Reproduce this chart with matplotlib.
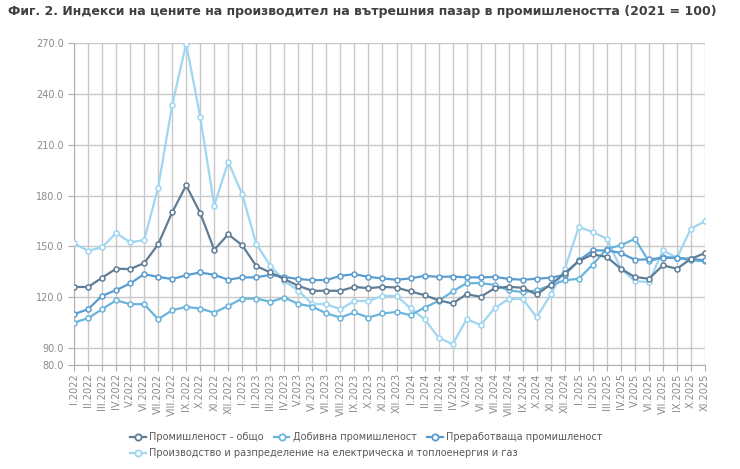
import matplotlib
matplotlib.use("Agg")
import matplotlib.pyplot as plt
from matplotlib.lines import Line2D

months = ["I.2022", "II.2022", "III.2022", "IV.2022", "V.2022", "VI.2022", "VII.2022", "VIII.2022",
          "IX.2022", "X.2022", "XI.2022", "XII.2022",
          "I.2023", "II.2023", "III.2023", "IV.2023", "V.2023", "VI.2023", "VII.2023", "VIII.2023",
          "IX.2023", "X.2023", "XI.2023", "XII.2023",
          "I.2024", "II.2024", "III.2024", "IV.2024", "V.2024", "VI.2024", "VII.2024", "VIII.2024",
          "IX.2024", "X.2024", "XI.2024", "XII.2024",
          "I.2025", "II.2025", "III.2025", "IV.2025", "V.2025", "VI.2025", "VII.2025",
          "IX.2025", "X.2025", "XI.2025"]

total = [126.1, 126.0, 131.5, 136.8, 136.6, 140.1, 151.2, 170.1, 186.0, 169.7, 148.0, 157.1,
         150.6, 138.4, 134.6, 130.7, 126.7, 123.8, 123.8, 123.8, 126.1, 125.3, 126.1, 125.7,
         123.4, 121.2, 118.2, 116.3, 121.8, 120.2, 125.3, 126.2, 125.5, 121.6, 127.5, 134.2,
         141.3, 145.3, 143.7, 136.8, 131.9, 130.9, 138.8, 136.8, 142.7, 146.0]

mining = [105.0, 107.6, 112.9, 118.2, 115.9, 115.9, 107.0, 112.3, 114.3, 113.3, 110.9, 114.9,
          119.2, 119.2, 117.3, 119.8, 116.0, 114.5, 110.4, 108.0, 111.0, 108.0, 110.4, 111.3,
          109.4, 113.9, 117.8, 123.4, 128.3, 128.3, 127.3, 124.0, 123.0, 124.0, 127.0, 130.0,
          130.9, 139.3, 148.6, 150.6, 154.5, 141.1, 143.7, 143.3, 141.7, 141.3]

manuf = [110.0, 112.9, 120.8, 124.2, 128.1, 133.6, 132.0, 130.7, 133.0, 134.6, 133.2, 130.3,
         131.7, 131.7, 133.2, 132.0, 130.7, 130.1, 130.1, 132.6, 133.6, 132.0, 131.1, 130.3,
         131.1, 132.6, 132.0, 132.2, 131.7, 131.7, 132.0, 130.8, 130.3, 130.9, 131.5, 133.2,
         141.7, 147.6, 147.6, 146.1, 142.1, 142.3, 143.3, 143.1, 142.7, 141.7]

energy = [151.8, 147.4, 149.4, 157.9, 152.4, 153.7, 184.6, 233.4, 269.6, 226.5, 174.1, 199.8,
          180.7, 151.4, 138.6, 129.7, 123.8, 116.0, 115.9, 112.9, 117.8, 117.8, 120.8, 120.8,
          113.5, 107.0, 96.2, 92.2, 107.0, 103.6, 113.5, 119.0, 119.0, 108.2, 121.6, 136.8,
          161.4, 158.5, 154.5, 136.8, 129.5, 128.9, 147.6, 143.3, 160.5, 164.8]

names = ["Промишленост - общо", "Добивна промишленост", "Преработваща промишленост",
         "Производство и разпределение на електрическа и топлоенергия и газ"]
colors = ["#5f7d96", "#6ab4dc", "#5b9ccf", "#9fd6f1"]

fig = plt.figure(figsize=(7.4, 4.69), dpi=100)
ax = fig.add_axes([74/740, 1 - 365/469, (705 - 74)/740, (365 - 43)/469])

x = list(range(len(months)))
# draw the light series first so the darker ones sit on top
for s, c in zip([energy, mining, manuf, total], [colors[3], colors[1], colors[2], colors[0]]):
    ax.plot(x, s, color=c, linewidth=1.6, marker="o", markersize=3.6,
            markerfacecolor="white", markeredgewidth=1.1, zorder=3)

ax.set_xlim(0, len(months) - 1)
ax.set_ylim(80, 270)
yt = [80, 90, 120, 150, 180, 210, 240, 270]
ax.set_yticks(yt)
ax.set_yticklabels(["%.1f" % v for v in yt])
ax.set_xticks(x)
ax.set_xticklabels(months, rotation=90)

ax.grid(True, color="#c8c8c8", linewidth=1.0, zorder=0)
for sp in ["top", "right"]:
    ax.spines[sp].set_visible(False)
for sp in ["left", "bottom"]:
    ax.spines[sp].set_color("#b0b0b0")
ax.tick_params(axis="both", colors="#b0b0b0", labelcolor="#8a8a8a", labelsize=7, length=4)
ax.tick_params(axis="x", pad=2)

fig.text(8/740, 1 - 12/469, "Фиг. 2. Индекси на цените на производител на вътрешния пазар в промишлеността (2021 = 100)",
         fontsize=9, fontweight="bold", color="#404040", va="center", ha="left")

handles = [Line2D([0], [0], color=c, linewidth=1.6, marker="o", markersize=4.5,
                  markerfacecolor="white", markeredgewidth=1.3) for c in colors]
fig.legend(handles[:3], names[:3], ncol=3, loc="center left",
           bbox_to_anchor=(130/740, 1 - 437/469), frameon=False, fontsize=7,
           handlelength=1.6, handletextpad=0.4, columnspacing=1.0, labelcolor="#595959",
           borderaxespad=0, borderpad=0)
fig.legend(handles[3:], names[3:], loc="center left",
           bbox_to_anchor=(130/740, 1 - 453/469), frameon=False, fontsize=7,
           handlelength=1.6, handletextpad=0.4, labelcolor="#595959",
           borderaxespad=0, borderpad=0)

fig.savefig("out.png", dpi=100)
